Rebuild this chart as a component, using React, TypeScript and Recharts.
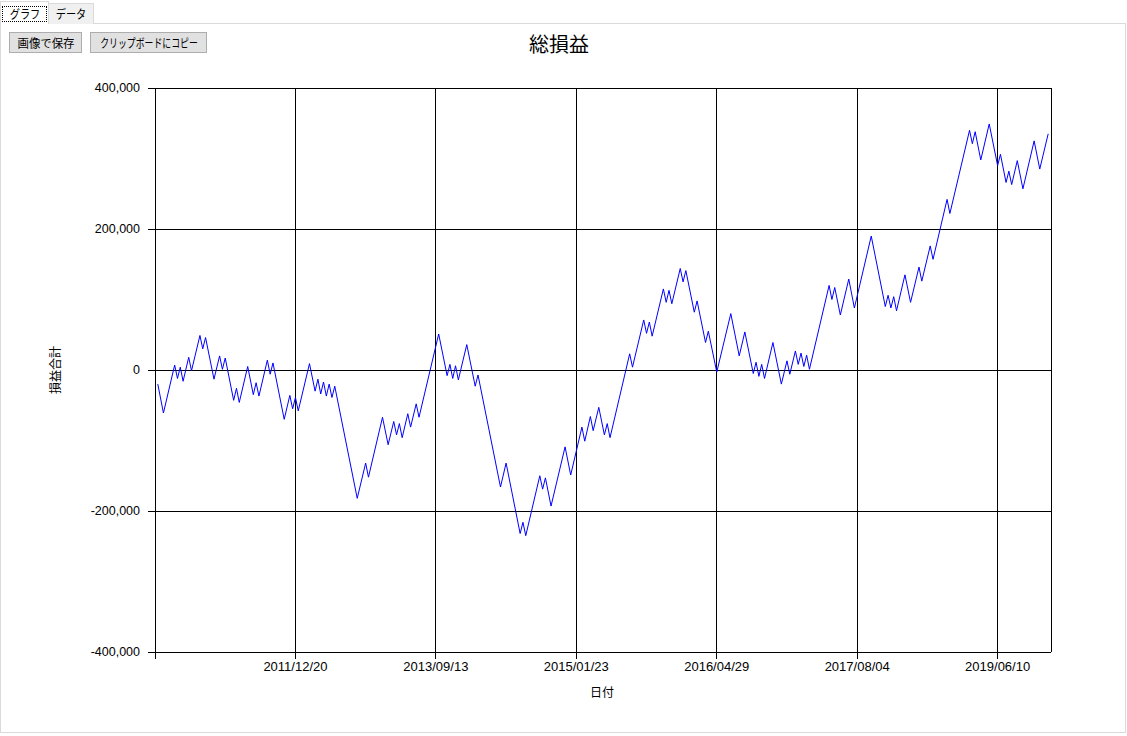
import React from 'react';
import { LineChart, Line, XAxis, YAxis, CartesianGrid } from 'recharts';

// trade index (x) of each turning point of the cumulative P/L line
const tradeIdx = [
  1, 3, 7, 8, 9, 10, 12, 13, 16, 17, 18, 21, 23, 24, 25, 28, 29, 30, 33, 35, 36, 37, 40, 41, 42, 46, 48, 49, 50, 51,
  55, 57, 58, 59, 60, 61, 62, 63, 64, 72, 75, 76, 81, 83, 85, 86, 87, 88, 90, 91, 93, 94, 101, 104, 105, 106, 107, 108,
  111, 114, 115, 123, 125, 130, 131, 132, 137, 138, 139, 141, 146, 148, 152, 153, 155, 156, 158, 160, 161, 162, 169,
  170, 174, 175, 176, 177, 181, 182, 183, 184, 187, 188, 189, 192, 193, 196, 197, 200, 205, 208, 210, 213, 214, 215,
  216, 217, 220, 223, 225, 226, 228, 229, 230, 231, 232, 233, 240, 241, 242, 244, 247, 249, 255, 260, 261, 262, 263,
  264, 267, 269, 272, 273, 276, 277, 282, 283, 290, 291, 292, 294, 297, 300, 301, 303, 304, 305, 307, 309, 313, 315, 318,
];

// cumulative P/L (yen) at those points
const totalPnl = [
  -20000, -61000, 7000, -12000, 4000, -16000, 18000, -1000, 49000, 30000, 46000, -13000, 20000, 1000, 17000, -43000,
  -26000, -46000, 5000, -35000, -18000, -37000, 14000, -6000, 10000, -70000, -36000, -55000, -39000, -58000,
  9000, -30000, -13000, -34000, -17000, -37000, -20000, -39000, -23000, -182000, -132000, -152000, -67000, -106000,
  -73000, -92000, -76000, -96000, -62000, -81000, -48000, -67000, 51000, -8000, 8000, -12000, 6000, -14000,
  36000, -23000, -7000, -166000, -132000, -232000, -216000, -235000, -150000, -169000, -153000, -193000, -109000,
  -149000, -81000, -101000, -66000, -86000, -53000, -92000, -76000, -96000, 23000,
  4000, 71000, 52000, 68000, 48000, 115000, 96000, 113000, 94000, 144000, 125000, 141000, 82000, 98000, 39000, 55000,
  -3000, 80000, 20000, 54000, -5000, 11000, -9000,
  8000, -12000, 39000, -20000, 13000, -6000, 27000, 8000, 24000, 5000, 21000, 1000, 120000, 100000, 117000, 78000,
  129000, 88000, 190000, 90000, 106000, 88000, 104000,
  84000, 135000, 96000, 146000, 126000, 176000, 157000, 242000, 222000, 340000, 321000, 338000, 298000, 349000,
  290000, 306000, 266000, 282000, 263000, 297000, 257000, 325000, 285000, 335000,
];

const xTickIdx = [0, 50, 100, 150, 200, 250, 300];
const xTickLabels = ['', '2011/12/20', '2013/09/13', '2015/01/23', '2016/04/29', '2017/08/04', '2019/06/10'];
const yTicks = [-400000, -200000, 0, 200000, 400000];

const data = tradeIdx.map((i, k) => ({ i, v: totalPnl[k] }));

const uiFont = '"Noto Sans CJK JP", "Noto Sans", sans-serif';
const tickFont = '"Liberation Sans", Arial, sans-serif';

const btn: React.CSSProperties = {
  position: 'absolute',
  top: 32,
  height: 21,
  boxSizing: 'border-box',
  background: '#e1e1e1',
  border: '1px solid #adadad',
  fontSize: 12,
  lineHeight: '19px',
  color: '#000',
  fontFamily: uiFont,
  whiteSpace: 'nowrap',
  overflow: 'hidden',
};

const squeeze = (s: number): React.CSSProperties => ({
  position: 'absolute',
  left: '50%',
  top: 0,
  transform: `translateX(-50%) scaleX(${s})`,
  transformOrigin: 'center',
  whiteSpace: 'nowrap',
});

export default function App() {
  return (
    <div style={{ position: 'absolute', left: 0, top: 0, width: 1127, height: 736, background: '#fff', overflow: 'hidden', fontFamily: uiFont }}>
      <style>{`.recharts-cartesian-grid line, .recharts-cartesian-axis line { shape-rendering: crispEdges; }`}</style>
      {/* tab page frame */}
      <div style={{ position: 'absolute', left: 0, top: 23, width: 1126, height: 710, boxSizing: 'border-box', border: '1px solid #dadada', background: '#fff' }} />
      {/* tabs */}
      <div style={{ position: 'absolute', left: 48, top: 3, width: 46, height: 21, boxSizing: 'border-box', border: '1px solid #dadada', borderBottom: 'none', background: '#f0f0f0', fontSize: 12, lineHeight: '19px', color: '#000' }}>
        <span style={squeeze(0.85)}>データ</span>
      </div>
      <div style={{ position: 'absolute', left: 0, top: 1, width: 49, height: 23, boxSizing: 'border-box', border: '1px solid #dadada', borderBottom: 'none', background: '#fff' }}>
        <div style={{ position: 'absolute', left: 1, top: 4, width: 45, height: 16, boxSizing: 'border-box', border: '1px dotted #000', fontSize: 12, lineHeight: '14px', color: '#000' }}>
          <span style={squeeze(0.85)}>グラフ</span>
        </div>
      </div>
      {/* buttons */}
      <div style={{ ...btn, left: 9, width: 73 }}>
        <span style={squeeze(0.95)}>画像で保存</span>
      </div>
      <div style={{ ...btn, left: 90, width: 117 }}>
        <span style={squeeze(0.74)}>クリップボードにコピー</span>
      </div>
      {/* title */}
      <div style={{ position: 'absolute', left: 459, top: 30, width: 200, textAlign: 'center', fontSize: 20, lineHeight: '28px', color: '#000' }}>総損益</div>
      {/* axis titles */}
      <div style={{ position: 'absolute', left: 552, top: 683, width: 100, textAlign: 'center', fontSize: 12, lineHeight: '18px', color: '#000' }}>日付</div>
      <div style={{ position: 'absolute', left: 5, top: 361, width: 100, textAlign: 'center', fontSize: 12, lineHeight: '18px', color: '#000', transform: 'rotate(-90deg)' }}>損益合計</div>

      <div style={{ position: 'absolute', left: 0, top: 0 }}>
        <LineChart width={1127} height={736} data={data} margin={{ top: 88, right: 76, bottom: 44, left: 75 }}>
          <CartesianGrid stroke="#000" strokeWidth={1} />
          <XAxis
            dataKey="i"
            type="number"
            domain={[0, 319]}
            ticks={xTickIdx}
            interval={0}
            tickFormatter={(v: number) => xTickLabels[xTickIdx.indexOf(v)] ?? ''}
            height={40}
            tickSize={7}
            tickMargin={3}
            stroke="#000"
            tick={{ fill: '#000', fontSize: 13, fontFamily: tickFont }}
          />
          <YAxis
            type="number"
            domain={[-400000, 400000]}
            ticks={yTicks}
            interval={0}
            width={80}
            tickSize={7}
            tickMargin={8}
            stroke="#000"
            tickFormatter={(v: number) => v.toLocaleString('en-US')}
            tick={{ fill: '#000', fontSize: 12.5, fontFamily: tickFont }}
          />
          <Line type="linear" dataKey="v" stroke="#0000ff" strokeWidth={1} dot={false} isAnimationActive={false} />
        </LineChart>
      </div>
    </div>
  );
}
